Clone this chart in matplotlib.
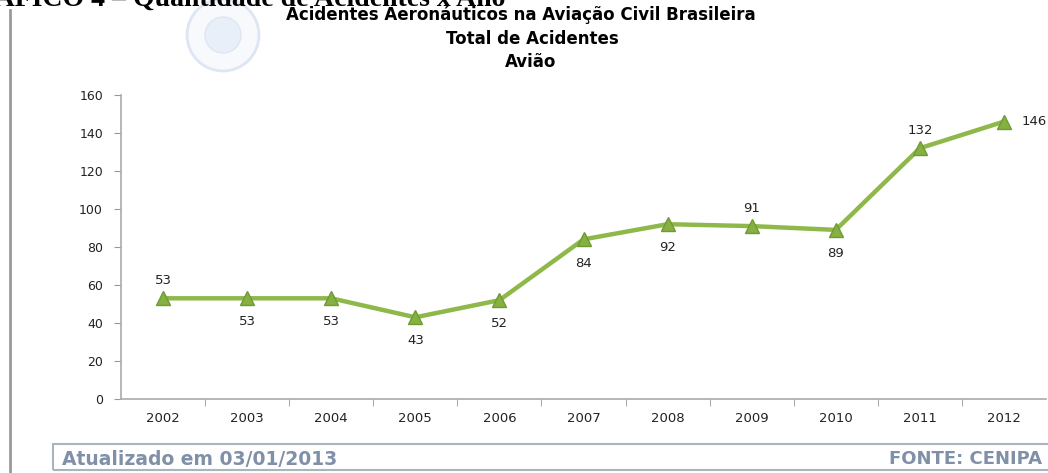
import matplotlib.pyplot as plt
from matplotlib.patches import Circle, Rectangle

anos = ['2002', '2003', '2004', '2005', '2006', '2007',
        '2008', '2009', '2010', '2011', '2012']
acidentes = [53, 53, 53, 43, 52, 84, 92, 91, 89, 132, 146]
# posição do rótulo de cada ponto: acima, abaixo ou à direita
posicao = ['cima', 'baixo', 'baixo', 'baixo', 'baixo', 'baixo',
           'baixo', 'cima', 'baixo', 'cima', 'direita']
y_ticks = [0, 20, 40, 60, 80, 100, 120, 140, 160]


def main():
    W, H = 1048, 473
    fig = plt.figure(figsize=(W / 100, H / 100), dpi=100)

    ax = fig.add_axes([121 / W, 1 - 399 / H, (1046 - 121) / W, (399 - 95) / H])
    x = list(range(len(anos)))
    ax.plot(x, acidentes, color='#8fb84a', lw=3.2, zorder=2)
    ax.plot(x, acidentes, ls='none', marker='^', ms=10,
            mfc='#86b040', mec='#6f9a35', zorder=3)

    for xi, v, p in zip(x, acidentes, posicao):
        if p == 'cima':
            dx, dy, ha = 0, 12.5, 'center'
        elif p == 'baixo':
            dx, dy, ha = 0, -17, 'center'
        else:
            dx, dy, ha = 13, 0, 'left'
        ax.annotate(str(v), (xi, v), xytext=(dx, dy), textcoords='offset points',
                    ha=ha, va='center', fontsize=9.5, color='#222222')

    ax.set_xlim(-0.5, len(anos) - 0.5)
    ax.set_ylim(0, 160)
    ax.set_yticks(y_ticks)
    ax.set_xticks(x)
    ax.set_xticklabels(anos)
    ax.set_xticks([i + 0.5 for i in x[:-1]], minor=True)
    ax.tick_params(axis='x', which='major', length=0, pad=9,
                   labelsize=9.5, labelcolor='#222222')
    ax.tick_params(axis='x', which='minor', length=5, color='#999999',
                   direction='out')
    ax.tick_params(axis='y', length=5, color='#999999', pad=8,
                   labelsize=9, labelcolor='#222222')
    for s in ['top', 'right']:
        ax.spines[s].set_visible(False)
    for s in ['left', 'bottom']:
        ax.spines[s].set_color('#aaaaaa')
        ax.spines[s].set_linewidth(1.2)

    # títulos
    fig.text(521 / W, 1 - 15 / H, 'Acidentes Aeronáuticos na Aviação Civil Brasileira',
             ha='center', va='center', fontsize=12, fontweight='bold')
    fig.text(532 / W, 1 - 39 / H, 'Total de Acidentes',
             ha='center', va='center', fontsize=12, fontweight='bold')
    fig.text(531 / W, 1 - 62 / H, 'Avião',
             ha='center', va='center', fontsize=12, fontweight='bold')
    fig.text(505 / W, 1 - 6 / H, 'GRÁFICO 4 – Quantidade de Acidentes x Ano',
             ha='right', va='baseline', fontsize=20, fontweight='bold',
             family='Liberation Serif')

    # marca d'água (logo)
    fig.patches.append(Circle((223, H - 35), 36, transform=None,
                              facecolor='#f7f9fd', edgecolor='#dde6f3', lw=2,
                              zorder=0))
    fig.patches.append(Circle((223, H - 35), 18, transform=None,
                              facecolor='#e8eff9', edgecolor='#dde6f3', lw=1,
                              zorder=0))

    # borda esquerda e rodapé
    fig.add_artist(plt.Line2D([10 / W, 10 / W], [0, 1 - 10 / H],
                              color='#9a9a9a', lw=2))
    fig.patches.append(Rectangle((53 / W, 3 / H), 1, (470 - 444) / H,
                                 transform=fig.transFigure, fill=False,
                                 edgecolor='#aab4be', lw=1.5))
    fig.text(62 / W, 1 - 459 / H, 'Atualizado em 03/01/2013',
             ha='left', va='center', fontsize=13.5, fontweight='bold',
             color='#8090a8')
    fig.text(1042 / W, 1 - 459 / H, 'FONTE: CENIPA',
             ha='right', va='center', fontsize=13, fontweight='bold',
             color='#8090a8')

    fig.savefig('out.png', dpi=100)


if __name__ == "__main__":
    main()
